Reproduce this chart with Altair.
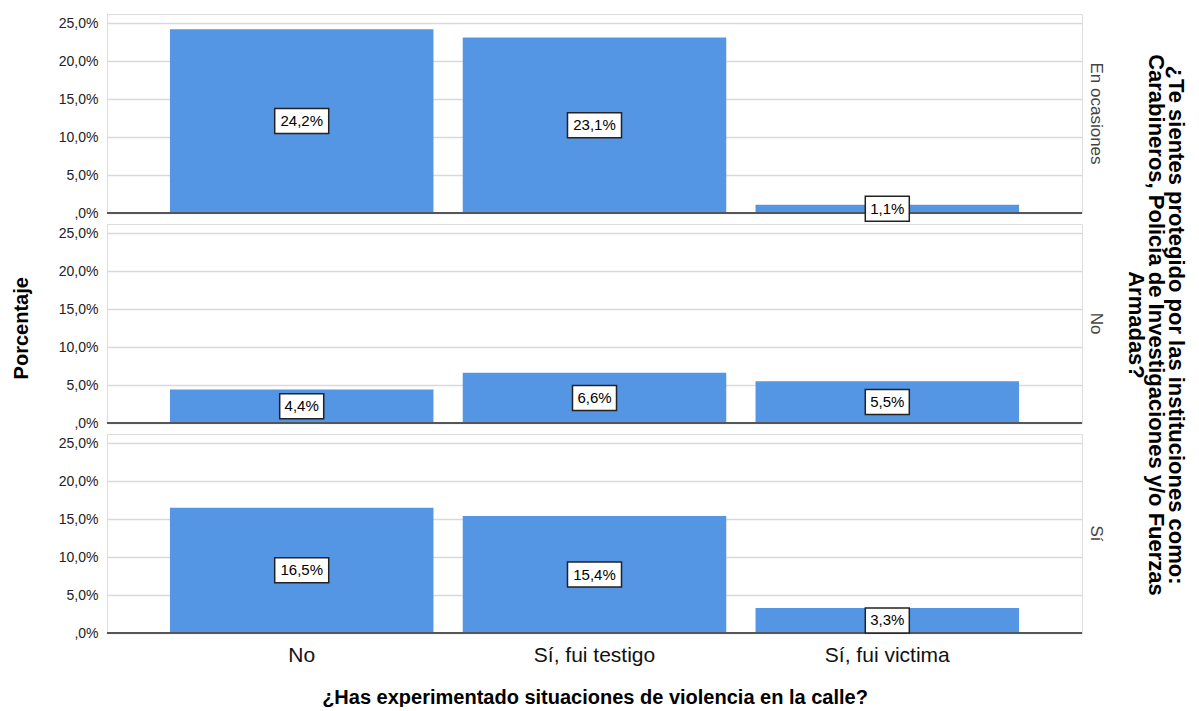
import altair as alt
import pandas as pd

experiencia = ["No", "Sí, fui testigo", "Sí, fui victima"]
proteccion = ["En ocasiones", "No", "Sí"]
pct_en_ocasiones = [24.2, 23.1, 1.1]
pct_no = [4.4, 6.6, 5.5]
pct_si = [16.5, 15.4, 3.3]

rows = []
for prot, vals in zip(proteccion, [pct_en_ocasiones, pct_no, pct_si]):
    for exp, v in zip(experiencia, vals):
        rows.append({"exp": exp, "prot": prot, "pct": v})
df = pd.DataFrame(rows)

BAR = "#5596e4"
FONT = "Liberation Sans"
box4 = "M-0.815,-0.463L0.815,-0.463L0.815,0.463L-0.815,0.463Z"
box5 = "M-1,-0.463L1,-0.463L1,0.463L-1,0.463Z"

x_enc = alt.X(
    "exp:N", sort=experiencia,
    scale=alt.Scale(paddingInner=0.1, paddingOuter=0.215),
    axis=alt.Axis(
        title="¿Has experimentado situaciones de violencia en la calle?",
        labelAngle=0, labelFontSize=21, labelFont=FONT, labelColor="#111",
        labelPadding=11, ticks=False, domain=False,
        titleFontSize=20, titleFont=FONT, titleFontWeight="bold",
        titleColor="#000", titlePadding=22,
    ),
)

y_axis = alt.Axis(
    values=[0, 5, 10, 15, 20, 25],
    labelExpr="datum.value == 0 ? ',0%' : replace(format(datum.value, '.1f'), '.', ',') + '%'",
    title=None,
    labelFontSize=14, labelFont=FONT, labelColor="#222", labelPadding=9,
    ticks=False, domainColor="#888", domainWidth=1,
    grid=True, gridColor="#d9d9d9", gridWidth=1.5,
)
y_scale = alt.Scale(domain=[0, 26.2], nice=False)

bars = alt.Chart().mark_bar(color=BAR).encode(
    x=x_enc,
    y=alt.Y("pct:Q", scale=y_scale, axis=y_axis),
)

base_rule = alt.Chart().mark_rule(color="#555", strokeWidth=1.5).encode(
    y=alt.Y(datum=0, scale=y_scale, axis=y_axis),
)

boxes = alt.Chart().mark_point(
    fill="white", fillOpacity=1, stroke="#222", strokeWidth=1.5,
    opacity=1, size=2916, filled=False,
).encode(
    x=x_enc,
    y=alt.Y("mid:Q", scale=y_scale, axis=y_axis),
    shape=alt.Shape("len:O", scale=alt.Scale(domain=[4, 5], range=[box4, box5]), legend=None),
)

labels = alt.Chart().mark_text(fontSize=15, font=FONT, color="#000").encode(
    x=x_enc,
    y=alt.Y("mid:Q", scale=y_scale, axis=y_axis),
    text="lbl:N",
)

layered = alt.layer(bars, base_rule, boxes, labels, data=df).transform_calculate(
    mid="datum.pct / 2",
    lbl="replace(format(datum.pct, '.1f'), '.', ',') + '%'",
).transform_calculate(
    len="length(datum.lbl)",
).properties(width=975, height=199)

chart = layered.facet(
    row=alt.Row(
        "prot:N", sort=proteccion,
        title=["¿Te sientes protegido por las instituciones como:",
               "Carabineros, Policía de Investigaciones y/o Fuerzas",
               "Armadas?"],
        header=alt.Header(
            labelOrient="right", labelAngle=90, labelFontSize=17, labelFont=FONT,
            labelColor="#444", labelPadding=5,
            titleOrient="right", titleAngle=90, titleFontSize=22, titleFont=FONT,
            titleFontWeight="bold", titleColor="#000", titlePadding=9,
            titleLineHeight=20,
        ),
    ),
    spacing=11,
    bounds="flush",
).properties(
    padding={"left": 4, "top": 5, "right": 0, "bottom": 0},
    title=alt.TitleParams(
        "Porcentaje", orient="left", anchor="middle", fontSize=20, font=FONT,
        fontWeight="bold", color="#000", offset=26, dx=32,
    ),
).configure_view(stroke=None).configure(background="white")

chart.save("out.html", embed_options={"renderer": "svg", "actions": False})
